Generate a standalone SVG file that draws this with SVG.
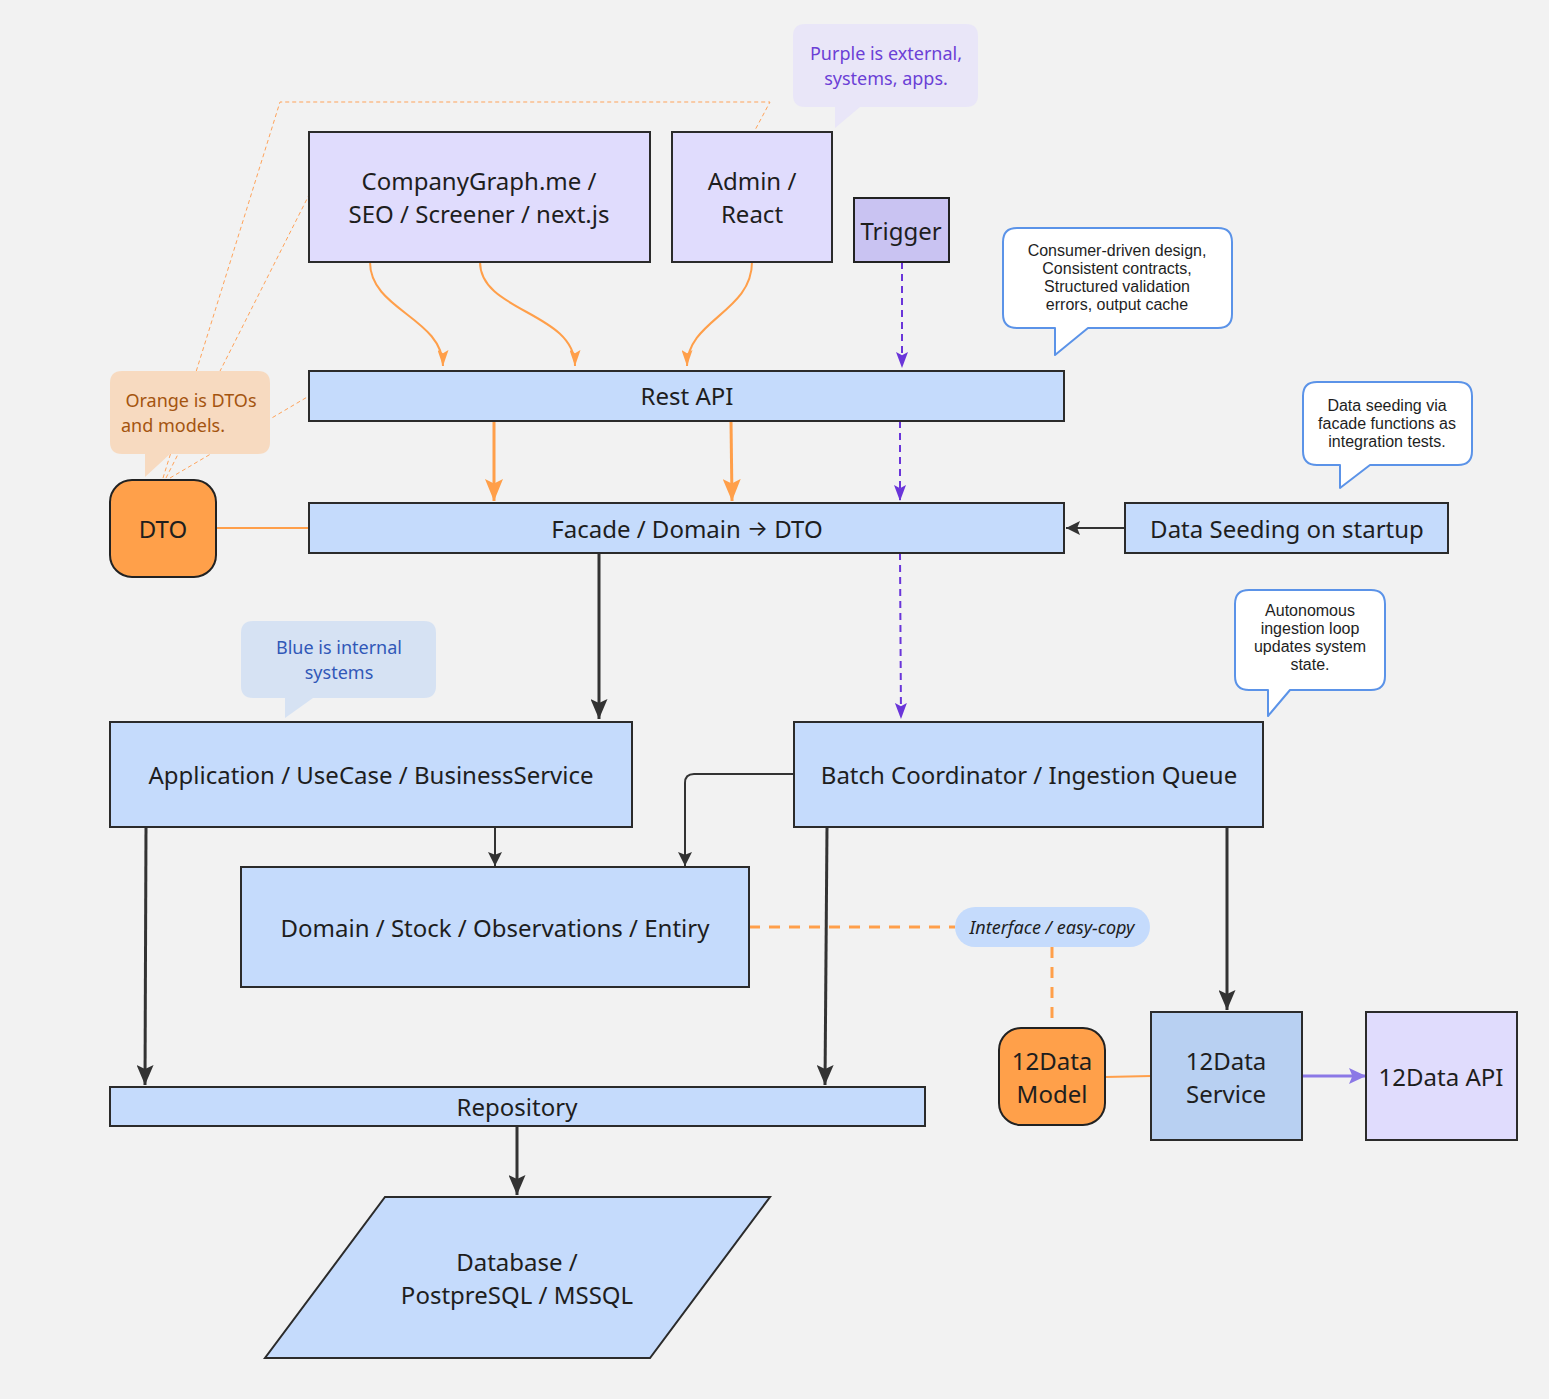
<svg xmlns="http://www.w3.org/2000/svg" width="1549" height="1399" viewBox="0 0 1549 1399">
<style>
.bg{fill:#f2f2f2}
.ext{fill:#e0dcfd;stroke:#2b2b2b;stroke-width:2}
.int{fill:#c5dbfc;stroke:#2b2b2b;stroke-width:2}
.org{fill:#ffa04a;stroke:#222;stroke-width:2}
.t{font-family:"Noto Sans","Open Sans",sans-serif;font-size:24px;fill:#1e1e1e;text-anchor:middle;dominant-baseline:central}
.nt{font-family:"Noto Sans","Open Sans",sans-serif;font-size:18px;text-anchor:middle;dominant-baseline:central}
.ct{font-family:"Liberation Sans",Arial,sans-serif;font-size:16px;fill:#1e1e1e;text-anchor:middle;dominant-baseline:central}
.callout{fill:#ffffff;stroke:#5b93e8;stroke-width:2;stroke-linejoin:round}
.blk{fill:none;stroke:#333;stroke-width:3}
.blkthin{fill:none;stroke:#333;stroke-width:2}
.orc{fill:none;stroke:#ff9f4a;stroke-width:2}
.ort{fill:none;stroke:#ff9f4a;stroke-width:3}
.pdash{fill:none;stroke:#6a35d9;stroke-width:2;stroke-dasharray:7 5}
.odot{fill:none;stroke:#ffa35a;stroke-width:1;stroke-dasharray:4 3}
.odash{fill:none;stroke:#ff9f4a;stroke-width:3;stroke-dasharray:11 9}
</style>
<defs>
<marker id="mOs" viewBox="0 0 10 10" refX="10" refY="5" markerWidth="16" markerHeight="11" markerUnits="userSpaceOnUse" orient="auto" preserveAspectRatio="none"><path d="M0,0 L10,5 L0,10 L2,5 z" fill="#ff9f4a"/></marker>
<marker id="mOb" viewBox="0 0 10 10" refX="10" refY="5" markerWidth="22" markerHeight="18" markerUnits="userSpaceOnUse" orient="auto" preserveAspectRatio="none"><path d="M0,0 L10,5 L0,10 L2,5 z" fill="#ff9f4a"/></marker>
<marker id="mP" viewBox="0 0 10 10" refX="10" refY="5" markerWidth="16" markerHeight="12" markerUnits="userSpaceOnUse" orient="auto" preserveAspectRatio="none"><path d="M0,0 L10,5 L0,10 L2,5 z" fill="#6a35d9"/></marker>
<marker id="mB" viewBox="0 0 10 10" refX="10" refY="5" markerWidth="20" markerHeight="17" markerUnits="userSpaceOnUse" orient="auto" preserveAspectRatio="none"><path d="M0,0 L10,5 L0,10 L2,5 z" fill="#333"/></marker>
<marker id="mBs" viewBox="0 0 10 10" refX="10" refY="5" markerWidth="14" markerHeight="14" markerUnits="userSpaceOnUse" orient="auto" preserveAspectRatio="none"><path d="M0,0 L10,5 L0,10 L2,5 z" fill="#333"/></marker>
<marker id="mL" viewBox="0 0 10 10" refX="10" refY="5" markerWidth="17" markerHeight="16" markerUnits="userSpaceOnUse" orient="auto" preserveAspectRatio="none"><path d="M0,0 L10,5 L0,10 L2,5 z" fill="#8b78e6"/></marker>
</defs>
<rect class="bg" x="0" y="0" width="1549" height="1399"/>

<g id="connectors">
<path class="odot" d="M163,478 L280,102 L770,102 L754,132"/>
<path class="odot" d="M166,478 L309,195"/>
<path class="odot" d="M170,478 L309,396"/>
<path class="orc" d="M370,262 C370,310 443,318 443,366" marker-end="url(#mOs)"/>
<path class="orc" d="M480,262 C480,312 575,312 575,366" marker-end="url(#mOs)"/>
<path class="orc" d="M752,262 C752,312 687,320 687,366" marker-end="url(#mOs)"/>
<path class="pdash" d="M902,262 L902,368" marker-end="url(#mP)"/>
<path class="pdash" d="M900,421 L900,501" marker-end="url(#mP)"/>
<path class="pdash" d="M900,553 L901,719" marker-end="url(#mP)"/>
<path class="ort" d="M494,421 L494,501" marker-end="url(#mOb)"/>
<path class="ort" d="M731,421 L732,501" marker-end="url(#mOb)"/>
<path class="orc" d="M216,528 L309,528"/>
<path class="blkthin" d="M1125,528 L1066,528" marker-end="url(#mBs)"/>
<path class="blk" d="M599,553 L599,719" marker-end="url(#mB)"/>
<path class="blkthin" d="M495,827 L495,866" marker-end="url(#mBs)"/>
<path class="blkthin" d="M794,774 L694,774 Q685,774 685,783 L685,866" marker-end="url(#mBs)"/>
<path class="blk" d="M146,827 L145,1085" marker-end="url(#mB)"/>
<path class="blk" d="M827,827 L825,1085" marker-end="url(#mB)"/>
<path class="blk" d="M1227,827 L1227,1010" marker-end="url(#mB)"/>
<path class="blk" d="M517,1126 L517,1195" marker-end="url(#mB)"/>
<path class="odash" d="M749,927 L955,927"/>
<path class="odash" d="M1052,947 L1052,1028"/>
<path class="orc" d="M1105,1077 L1151,1076"/>
<path fill="none" stroke="#8b78e6" stroke-width="3" d="M1302,1076 L1366,1076" marker-end="url(#mL)"/>
</g>

<g id="note-purple">
<path d="M805,24 H966 Q978,24 978,36 V95 Q978,107 966,107 H860 L835,128 V107 H805 Q793,107 793,95 V36 Q793,24 805,24 z" fill="#e9e6f8"/>
<text class="nt" fill="#6b3fd6" x="886" y="53">Purple is external,</text>
<text class="nt" fill="#6b3fd6" x="886" y="78">systems, apps.</text>
</g>

<g id="node-companygraph">
<rect class="ext" x="309" y="132" width="341" height="130"/>
<text class="t" x="479" y="180">CompanyGraph.me /</text>
<text class="t" x="479" y="213">SEO / Screener / next.js</text>
</g>
<g id="node-admin">
<rect class="ext" x="672" y="132" width="160" height="130"/>
<text class="t" x="752" y="180">Admin /</text>
<text class="t" x="752" y="213">React</text>
</g>
<g id="node-trigger">
<rect x="854" y="198" width="95" height="64" fill="#c9c3f2" stroke="#222" stroke-width="2"/>
<text class="t" x="901" y="230">Trigger</text>
</g>

<g id="callout-consumer">
<path class="callout" d="M1017,228 H1218 Q1232,228 1232,242 V314 Q1232,328 1218,328 H1088 L1055,355 V328 H1017 Q1003,328 1003,314 V242 Q1003,228 1017,228 z"/>
<text class="ct" x="1117" y="250">Consumer-driven design,</text>
<text class="ct" x="1117" y="268">Consistent contracts,</text>
<text class="ct" x="1117" y="286">Structured validation</text>
<text class="ct" x="1117" y="304">errors, output cache</text>
</g>

<g id="node-restapi">
<rect class="int" x="309" y="371" width="755" height="50"/>
<text class="t" x="687" y="395">Rest API</text>
</g>

<g id="note-orange">
<path d="M122,371 H258 Q270,371 270,383 V442 Q270,454 258,454 H170 L145,477 V454 H122 Q110,454 110,442 V383 Q110,371 122,371 z" fill="#f7dac0"/>
<text class="nt" fill="#a4540f" x="191" y="400">Orange is DTOs</text>
<text class="nt" fill="#a4540f" x="173" y="425">and models.</text>
</g>

<g id="callout-seeding">
<path class="callout" d="M1317,382 H1458 Q1472,382 1472,396 V451 Q1472,465 1458,465 H1370 L1340,488 V465 H1317 Q1303,465 1303,451 V396 Q1303,382 1317,382 z"/>
<text class="ct" x="1387" y="405">Data seeding via</text>
<text class="ct" x="1387" y="423">facade functions as</text>
<text class="ct" x="1387" y="441">integration tests.</text>
</g>

<g id="node-dto">
<rect class="org" x="110" y="480" width="106" height="97" rx="22"/>
<text class="t" x="163" y="528">DTO</text>
</g>
<g id="node-facade">
<rect class="int" x="309" y="503" width="755" height="50"/>
<text class="t" x="687" y="528">Facade / Domain <tspan font-family="Inter,sans-serif" font-size="22">→</tspan> DTO</text>
</g>
<g id="node-seeding">
<rect class="int" x="1125" y="503" width="323" height="50"/>
<text class="t" x="1287" y="528">Data Seeding on startup</text>
</g>

<g id="note-blue">
<path d="M253,621 H424 Q436,621 436,633 V686 Q436,698 424,698 H313 L285,718 V698 H253 Q241,698 241,686 V633 Q241,621 253,621 z" fill="#d6e2f3"/>
<text class="nt" fill="#3158b8" x="339" y="647">Blue is internal</text>
<text class="nt" fill="#3158b8" x="339" y="672">systems</text>
</g>

<g id="callout-autonomous">
<path class="callout" d="M1249,590 H1371 Q1385,590 1385,604 V676 Q1385,690 1371,690 H1290 L1268,716 V690 H1249 Q1235,690 1235,676 V604 Q1235,590 1249,590 z"/>
<text class="ct" x="1310" y="610">Autonomous</text>
<text class="ct" x="1310" y="628">ingestion loop</text>
<text class="ct" x="1310" y="646">updates system</text>
<text class="ct" x="1310" y="664">state.</text>
</g>

<g id="node-application">
<rect class="int" x="110" y="722" width="522" height="105"/>
<text class="t" x="371" y="774">Application / UseCase / BusinessService</text>
</g>
<g id="node-batch">
<rect class="int" x="794" y="722" width="469" height="105"/>
<text class="t" x="1029" y="774">Batch Coordinator / Ingestion Queue</text>
</g>
<g id="node-domain">
<rect class="int" x="241" y="867" width="508" height="120"/>
<text class="t" x="495" y="927">Domain / Stock / Observations / Entiry</text>
</g>
<g id="node-interface">
<rect x="955" y="907" width="195" height="40" rx="20" fill="#c5dbfc"/>
<text class="nt" fill="#1e1e1e" font-style="italic" x="1052" y="927">Interface / easy-copy</text>
</g>
<g id="node-12model">
<rect class="org" x="999" y="1028" width="106" height="97" rx="22"/>
<text class="t" x="1052" y="1060">12Data</text>
<text class="t" x="1052" y="1093">Model</text>
</g>
<g id="node-12service">
<rect x="1151" y="1012" width="151" height="128" fill="#b8d0f2" stroke="#2b2b2b" stroke-width="2"/>
<text class="t" x="1226" y="1060">12Data</text>
<text class="t" x="1226" y="1093">Service</text>
</g>
<g id="node-12api">
<rect class="ext" x="1366" y="1012" width="151" height="128"/>
<text class="t" x="1441" y="1076">12Data API</text>
</g>
<g id="node-repository">
<rect class="int" x="110" y="1087" width="815" height="39"/>
<text class="t" x="517" y="1106">Repository</text>
</g>
<g id="node-database">
<polygon class="int" points="385,1197 770,1197 650,1358 265,1358"/>
<text class="t" x="517" y="1261">Database /</text>
<text class="t" x="517" y="1294">PostpreSQL / MSSQL</text>
</g>
</svg>
